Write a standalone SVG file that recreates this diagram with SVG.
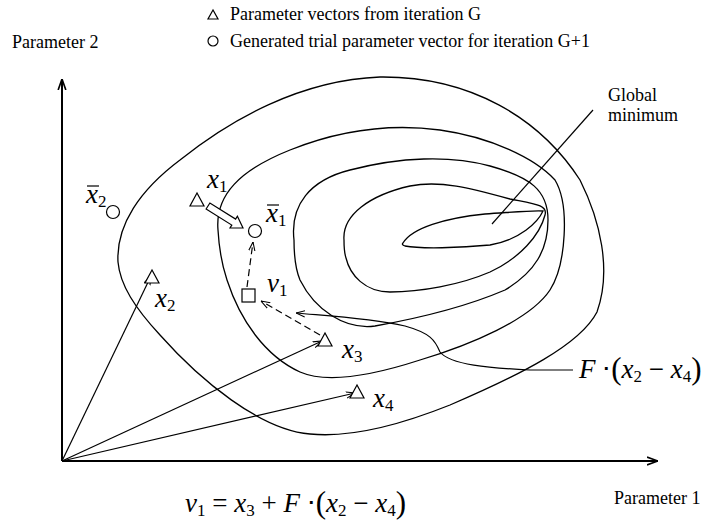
<svg xmlns="http://www.w3.org/2000/svg" width="702" height="522" viewBox="0 0 702 522">
<style>
text{font-family:"Liberation Serif","Times New Roman",serif;fill:#000}
.t{font-size:18px}
.m{font-size:27px;font-style:italic}
.s{font-size:17px;font-style:normal}
.u{font-style:normal}
.p{font-style:normal;font-size:31px}
.c{fill:none;stroke:#000;stroke-width:1.3}
.ln{fill:none;stroke:#000;stroke-width:1.2}
.ax{fill:none;stroke:#000;stroke-width:2}
.d{fill:none;stroke:#000;stroke-width:1.2;stroke-dasharray:7 4}
.sh{fill:#fff;stroke:#000;stroke-width:1.2}
</style>
<defs>
<marker id="ah" viewBox="0 0 10 10" refX="10" refY="5" markerWidth="9" markerHeight="9" markerUnits="userSpaceOnUse" orient="auto">
<path d="M0,1.5 L10,5 L0,8.5" fill="none" stroke="#000" stroke-width="1.2"/>
</marker>
<marker id="ax" viewBox="0 0 10 10" refX="10" refY="5" markerWidth="11" markerHeight="11" markerUnits="userSpaceOnUse" orient="auto">
<path d="M0,1.5 L10,5 L0,8.5" fill="none" stroke="#000" stroke-width="1.5"/>
</marker>
</defs>

<g id="legend">
<polygon class="sh" points="213,10 208,19 218,19"/>
<text class="t" x="230" y="20">Parameter vectors from iteration G</text>
<circle class="sh" cx="213" cy="41" r="5"/>
<text class="t" x="230" y="47">Generated trial parameter vector for iteration G+1</text>
</g>

<g id="axes">
<line class="ax" x1="62" y1="461" x2="62" y2="79" marker-end="url(#ax)"/>
<line class="ax" x1="62" y1="461" x2="658" y2="461" marker-end="url(#ax)"/>
<text class="t" x="12" y="48">Parameter 2</text>
<text class="t" x="614" y="504">Parameter 1</text>
</g>

<g id="contours">
<path class="c" d="M118,262 C116,225 140,190 180,160 C230,120 300,80 380,77 C470,76 540,118 580,180 C600,220 612,270 597,312 C580,345 520,375 450,405 C400,425 350,438 310,434 C260,430 200,380 160,335 C135,308 120,285 118,262 Z"/>
<path class="c" d="M218,230 C215,195 240,170 290,150 C330,134 380,122 440,130 C490,137 535,158 555,180 C570,205 566,265 550,290 C530,320 470,345 420,360 C380,373 330,385 300,372 C265,356 240,320 227,280 C222,265 219,248 218,230 Z"/>
<path class="c" d="M294,240 C290,205 310,180 350,170 C400,157 450,155 490,166 C530,177 548,190 548,220 C548,250 535,272 505,290 C470,305 420,318 375,326 C345,330 315,310 300,280 C295,268 294,255 294,240 Z"/>
<path class="c" d="M344,240 C342,215 370,195 410,186 C440,180 470,188 510,199 C535,204 548,205 545,215 C540,235 520,258 490,272 C460,285 420,292 390,292 C365,292 350,275 346,258 C344,252 344,246 344,240 Z"/>
<path class="c" d="M403,243 C412,228 445,218 485,214 C515,212 535,210 543,211 C538,222 520,240 490,245 C460,248 420,249 405,246 C402,245 402,244 403,243 Z"/>
</g>

<g id="global-minimum">
<line class="ln" x1="593" y1="110" x2="492" y2="224"/>
<text class="t" x="608" y="101">Global</text>
<text class="t" x="608" y="121">minimum</text>
</g>

<g id="connectors">
<line class="ln" x1="62" y1="461" x2="151" y2="276" marker-end="url(#ah)"/>
<line class="ln" x1="62" y1="461" x2="322" y2="341" marker-end="url(#ah)"/>
<line class="ln" x1="62" y1="461" x2="355" y2="393" marker-end="url(#ah)"/>
<line class="d" x1="247" y1="287" x2="253" y2="242" marker-end="url(#ah)"/>
<line class="d" x1="320" y1="335" x2="261" y2="301" marker-end="url(#ah)"/>
<path class="ln" d="M573,370 L530,370 C490,368 450,365 440,352 C435,340 430,333 405,326 C370,318 330,316 296,313" marker-end="url(#ah)"/>
<polygon class="sh" points="206.1,209 231.8,225.1 230,228 243,228 237.4,216.2 235.6,219.1 209.9,203"/>
</g>

<g id="x1">
<polygon class="sh" points="197,193 190,206 204,206"/>
<text class="m" x="207" y="188">x<tspan class="s" dy="4">1</tspan></text>
</g>
<g id="x2">
<polygon class="sh" points="152,270 145,283 159,283"/>
<text class="m" x="155" y="307">x<tspan class="s" dy="4">2</tspan></text>
</g>
<g id="x3">
<polygon class="sh" points="325,333 318,346 332,346"/>
<text class="m" x="342" y="358">x<tspan class="s" dy="4">3</tspan></text>
</g>
<g id="x4">
<polygon class="sh" points="357,385 350,398 364,398"/>
<text class="m" x="373" y="407">x<tspan class="s" dy="4">4</tspan></text>
</g>
<g id="xbar2">
<circle class="sh" cx="113" cy="212" r="6.5"/>
<text class="m" x="86" y="203">x<tspan class="s" dy="4">2</tspan></text>
<line class="ln" x1="87" y1="186" x2="99" y2="186"/>
</g>
<g id="xbar1">
<circle class="sh" cx="255" cy="231" r="6.5"/>
<text class="m" x="266" y="222">x<tspan class="s" dy="4">1</tspan></text>
<line class="ln" x1="267" y1="205" x2="279" y2="205"/>
</g>
<g id="v1">
<rect class="sh" x="242" y="289" width="13" height="13"/>
<text class="m" x="267" y="292">v<tspan class="s" dy="4">1</tspan></text>
</g>

<g id="labels">
<text class="m" x="579" y="378">F<tspan class="u"> ⋅</tspan><tspan class="p" dy="1">(</tspan><tspan dy="-1">x</tspan><tspan class="s" dy="4">2</tspan><tspan class="u" dy="-4"> − </tspan>x<tspan class="s" dy="4">4</tspan><tspan class="p" dy="-3">)</tspan></text>
<text class="m" x="185" y="512">v<tspan class="s" dy="4">1</tspan><tspan class="u" dy="-4"> = </tspan>x<tspan class="s" dy="4">3</tspan><tspan class="u" dy="-4"> + </tspan>F<tspan class="u"> ⋅</tspan><tspan class="p" dy="1">(</tspan><tspan dy="-1">x</tspan><tspan class="s" dy="4">2</tspan><tspan class="u" dy="-4"> − </tspan>x<tspan class="s" dy="4">4</tspan><tspan class="p" dy="-3">)</tspan></text>
</g>
</svg>
